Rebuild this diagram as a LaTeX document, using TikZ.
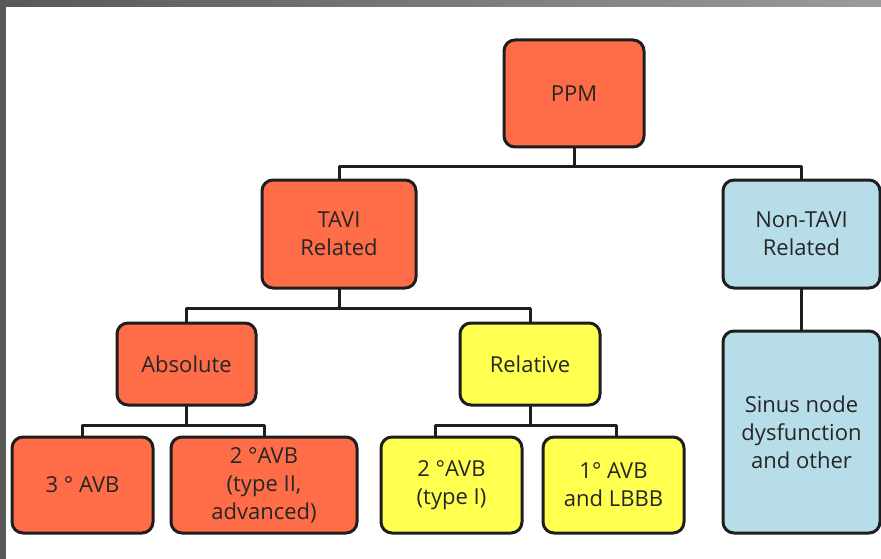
\documentclass[tikz,border=0pt]{standalone}
\usepackage{fontspec}
\setmainfont{Open Sans}
\usetikzlibrary{positioning}
\definecolor{ppmred}{RGB}{255,109,72}
\definecolor{relyellow}{RGB}{255,255,80}
\definecolor{otherblue}{RGB}{183,221,232}
\definecolor{framegray}{RGB}{88,88,88}
\definecolor{framelight}{RGB}{155,155,155}
\definecolor{edgegray}{RGB}{30,30,30}

\begin{document}
\begin{tikzpicture}[x=1pt, y=-1pt, line cap=round, line join=round,
    box/.style={draw=edgegray, line width=3pt, rounded corners=11pt,
      align=center, inner sep=0pt, text=black!85,
      font=\fontsize{22}{28}\selectfont},
    redbox/.style={box, fill=ppmred},
    yellowbox/.style={box, fill=relyellow},
    bluebox/.style={box, fill=otherblue},
    link/.style={draw=edgegray, line width=3pt}]
  %--- frame ---------------------------------------------------------------
  \useasboundingbox (0,0) rectangle (881,559);
  \fill[white] (0,0) rectangle (881,559);
  \shade[left color=framegray, right color=framelight] (0,0) rectangle (881,7);
  \fill[framegray] (0,0) rectangle (6,559);

  %--- top levels ----------------------------------------------------------
  \node[redbox, minimum width=140, minimum height=107] (ppm) at (574,93.5) {PPM};
  \node[redbox, minimum width=154, minimum height=108] (tavi) at (339,234) {TAVI\\Related};
  \node[bluebox, minimum width=157, minimum height=108] (nontavi) at (801.5,234) {Non-TAVI\\Related};

  \node[redbox, minimum width=139, minimum height=82] (absolute) at (186.5,364) {Absolute};
  \node[yellowbox, minimum width=140, minimum height=82] (relative) at (530,364) {Relative};

  %--- bottom level --------------------------------------------------------
  \node[redbox, minimum width=141, minimum height=96] (avbthree) at (82.5,485) {3 ° AVB};
  \node[redbox, minimum width=186, minimum height=96] (avbtwoII) at (264,485) {2 °AVB\\(type II,\\advanced)};
  \node[yellowbox, minimum width=141, minimum height=96] (avbtwoI) at (451.5,485) {2 °AVB\\(type I)};
  \node[yellowbox, minimum width=141, minimum height=96] (avbone) at (613.5,485) {1° AVB\\and LBBB};
  \node[bluebox, minimum width=157, minimum height=202] (sinus) at (801.5,432) {Sinus node\\dysfunction\\and other};

  %--- connectors ----------------------------------------------------------
  \draw[link] (ppm.south) -- ++(0,18) -| (tavi.north);
  \draw[link] (ppm.south) ++(0,18) -| (nontavi.north);
  \draw[link] (nontavi.south) -- (sinus.north);

  \draw[link] (tavi.south) -- ++(0,19) -| (absolute.north);
  \draw[link] (tavi.south) ++(0,19) -| (relative.north);

  \draw[link] (absolute.south) -- ++(0,19) -| (avbthree.north);
  \draw[link] (absolute.south) ++(0,19) -| (avbtwoII.north);

  \draw[link] (relative.south) -- ++(0,19) -| ([xshift=-16pt]avbtwoI.north);
  \draw[link] (relative.south) ++(0,19) -| ([xshift=3pt]avbone.north);
\end{tikzpicture}
\end{document}
